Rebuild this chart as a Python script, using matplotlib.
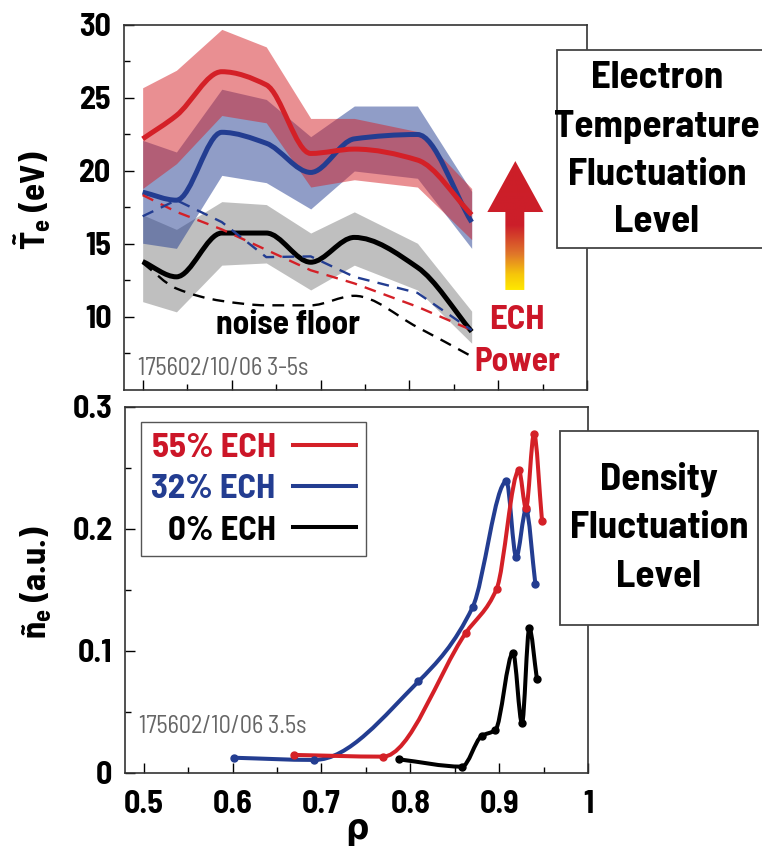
import matplotlib.pyplot as plt
import numpy as np
from matplotlib.path import Path
from matplotlib.patches import PathPatch, Rectangle, Polygon
from matplotlib.lines import Line2D
from matplotlib.colors import LinearSegmentedColormap

FONT = 'Barlow Semi Condensed'
plt.rcParams['font.family'] = [FONT, 'DejaVu Sans']
plt.rcParams['font.stretch'] = 'condensed'
plt.rcParams['font.weight'] = 'bold'
plt.rcParams['axes.labelweight'] = 'bold'
plt.rcParams['mathtext.fontset'] = 'custom'
plt.rcParams['mathtext.rm'] = FONT + ':bold'
plt.rcParams['mathtext.it'] = FONT + ':bold'
plt.rcParams['mathtext.bf'] = FONT + ':bold'

RED = '#d42027'
BLUE = '#233d91'
TXT_RED = '#cc1628'

# ---- top panel: Te fluctuation level ----
rho_top = [0.50, 0.538, 0.589, 0.639, 0.689, 0.738, 0.809, 0.870]
te_55 = [22.2, 23.8, 26.8, 25.9, 21.2, 21.5, 20.75, 17.0]
te_32 = [18.55, 18.0, 22.65, 21.9, 19.9, 22.2, 22.5, 16.5]
te_0 = [13.8, 12.75, 15.75, 15.75, 13.75, 15.45, 13.4, 9.0]
red_hi = [25.7, 26.9, 29.7, 28.5, 23.6, 23.6, 22.7, 18.8]
red_lo = [18.8, 20.5, 23.8, 23.3, 18.9, 19.4, 18.9, 15.3]
blue_hi = [22.1, 21.3, 25.6, 24.9, 22.35, 24.45, 24.45, 18.6]
blue_lo = [15.05, 14.7, 19.7, 19.2, 17.4, 20.0, 19.5, 14.7]
gray_hi = [17.0, 16.0, 17.9, 17.7, 15.75, 17.2, 15.05, 10.4]
gray_lo = [11.05, 10.35, 13.55, 13.7, 11.85, 13.55, 11.85, 8.2]
red_dash = [18.35, 17.2, 16.0, 14.6, 13.2, 12.3, 10.7, 9.1]
blue_dash = [16.9, 18.0, 16.5, 14.1, 14.15, 12.75, 11.65, 9.1]
noise_floor = [13.7, 11.95, 11.1, 10.8, 10.8, 11.45, 9.3, 7.3]

# ---- bottom panel: density fluctuation level ----
ne55_rho = [0.669, 0.769, 0.862, 0.897, 0.922, 0.930, 0.939, 0.948]
ne55 = [0.0148, 0.0134, 0.1145, 0.151, 0.248, 0.217, 0.278, 0.2066]
ne32_rho = [0.6015, 0.692, 0.809, 0.870, 0.908, 0.919, 0.930, 0.9405]
ne32 = [0.0125, 0.0107, 0.075, 0.136, 0.239, 0.177, 0.2156, 0.155]
ne0_rho = [0.787, 0.858, 0.880, 0.8955, 0.9154, 0.9255, 0.9337, 0.9423]
ne0 = [0.0112, 0.0052, 0.0303, 0.0352, 0.0986, 0.0407, 0.1186, 0.0768]

legend_labels = ['55% ECH', '32% ECH', '0% ECH']


def smooth_path(xs, ys):
    # monotone cubic (pchip-like) curve through the points as Bezier segments
    x = np.asarray(xs, float)
    y = np.asarray(ys, float)
    h = np.diff(x)
    d = np.diff(y) / h
    m = np.zeros_like(x)
    m[0], m[-1] = d[0], d[-1]
    for k in range(1, len(x) - 1):
        if d[k - 1] * d[k] > 0:
            w1 = 2 * h[k] + h[k - 1]
            w2 = h[k] + 2 * h[k - 1]
            m[k] = (w1 + w2) / (w1 / d[k - 1] + w2 / d[k])
    verts = [(x[0], y[0])]
    codes = [Path.MOVETO]
    for k in range(len(x) - 1):
        verts += [(x[k] + h[k] / 3, y[k] + m[k] * h[k] / 3),
                  (x[k + 1] - h[k] / 3, y[k + 1] - m[k + 1] * h[k] / 3),
                  (x[k + 1], y[k + 1])]
        codes += [Path.CURVE4] * 3
    return Path(verts, codes)


def curve(ax, xs, ys, color, lw, **kw):
    ax.add_patch(PathPatch(smooth_path(xs, ys), fill=False, ec=color, lw=lw,
                           joinstyle='round', **kw))


def style_axes(ax):
    for s in ax.spines.values():
        s.set_color('#333333')
        s.set_linewidth(1.2)
    ax.tick_params(which='both', direction='in', top=False, right=False,
                   width=1, labelsize=23)
    ax.tick_params(which='major', length=7)
    ax.tick_params(which='minor', length=4)
    ax.tick_params(axis='y', pad=9)
    ax.tick_params(axis='x', pad=12)


fig = plt.figure(figsize=(7.62, 8.5), dpi=100)
ax1 = fig.add_axes([0.1627, 0.5412, 0.608, 0.4294])
ax2 = fig.add_axes([0.164, 0.0906, 0.608, 0.4306])

# top panel
ax1.fill_between(rho_top, gray_lo, gray_hi, color='black', alpha=0.25, lw=0)
ax1.fill_between(rho_top, blue_lo, blue_hi, color=BLUE, alpha=0.5, lw=0)
ax1.fill_between(rho_top, red_lo, red_hi, color=RED, alpha=0.5, lw=0)
ax1.plot(rho_top, red_dash, color=RED, lw=1.7, dashes=(5, 3.5))
ax1.plot(rho_top, blue_dash, color=BLUE, lw=1.7, dashes=(5, 3.5))
curve(ax1, rho_top, noise_floor, 'black', 1.7, linestyle=(0, (5, 3.5)))
curve(ax1, rho_top, te_0, 'black', 3.6)
curve(ax1, rho_top, te_32, BLUE, 3.6)
curve(ax1, rho_top, te_55, RED, 3.6)

# ECH power arrow with yellow-to-red gradient
cmap = LinearSegmentedColormap.from_list(
    'ech', [(0, '#ffe800'), (0.12, '#f6c60a'), (0.28, '#e0762a'),
            (0.5, '#cc1f2a'), (1, '#cc1e28')])
arrow = Polygon([(0.9079, 11.85), (0.9292, 11.85), (0.9292, 17.19),
                 (0.9506, 17.19), (0.9191, 20.68), (0.8876, 17.19),
                 (0.9079, 17.19)], closed=True, fc='none', ec='none')
ax1.add_patch(arrow)
im = ax1.imshow(np.linspace(0, 1, 256).reshape(-1, 1), cmap=cmap,
                origin='lower', extent=(0.8876, 0.9506, 11.85, 20.68),
                aspect='auto', zorder=5)
im.set_clip_path(arrow)
ax1.text(0.921, 9.79, 'ECH', color=TXT_RED, fontsize=25, ha='center', va='center')
ax1.text(0.921, 6.92, 'Power', color=TXT_RED, fontsize=24, ha='center', va='center')
ax1.text(0.663, 9.45, 'noise floor', fontsize=24, ha='center', va='center')
ax1.text(0.4944, 6.44, '175602/10/06 3-5s', fontsize=17.5, fontweight='normal',
         color='#666666', ha='left', va='center')

ax1.set_xlim(0.479, 1.0)
ax1.set_ylim(5, 30)
ax1.set_xticks(np.arange(0.5, 1.01, 0.1))
ax1.set_xticks(np.arange(0.55, 1.0, 0.1), minor=True)
ax1.set_yticks([10, 15, 20, 25, 30])
ax1.set_yticks([7.5, 12.5, 17.5, 22.5, 27.5], minor=True)
style_axes(ax1)
ax1.tick_params(labelbottom=False)
ax1.set_ylabel(r'$\tilde{\mathrm{T}}_{\mathrm{e}}$ (eV)', fontsize=25)
ax1.yaxis.set_label_coords(-0.153, 0.52)

# bottom panel
for xs, ys, c in [(ne32_rho, ne32, BLUE), (ne55_rho, ne55, RED), (ne0_rho, ne0, 'black')]:
    curve(ax2, xs, ys, c, 2.9)
    ax2.plot(xs, ys, 'o', color=c, ms=5)

handles = [Line2D([], [], color=RED, lw=2.9), Line2D([], [], color=BLUE, lw=2.9),
           Line2D([], [], color='black', lw=2.9)]
leg = ax2.legend(handles, legend_labels, loc='upper left',
                 bbox_to_anchor=(0.0346, 0.959), borderaxespad=0, fontsize=25,
                 markerfirst=False, handlelength=1.8, handletextpad=0.5,
                 labelspacing=0.32, borderpad=0.3, fancybox=False,
                 framealpha=1, edgecolor='#555555')
leg.get_frame().set_linewidth(1.0)
for t, c in zip(leg.get_texts(), [TXT_RED, BLUE, 'black']):
    t.set_color(c)

ax2.text(0.4944, 0.0377, '175602/10/06 3.5s', fontsize=17.5, fontweight='normal',
         color='#666666', ha='left', va='center')

ax2.set_xlim(0.479, 1.0)
ax2.set_ylim(0, 0.3)
ax2.set_xticks(np.arange(0.5, 1.01, 0.1))
ax2.set_xticklabels(['0.5', '0.6', '0.7', '0.8', '0.9', '1'])
ax2.set_xticks(np.arange(0.55, 1.0, 0.1), minor=True)
ax2.set_yticks([0, 0.1, 0.2, 0.3])
ax2.set_yticklabels(['0', '0.1', '0.2', '0.3'])
ax2.set_yticks([0.05, 0.15, 0.25], minor=True)
style_axes(ax2)
ax2.set_ylabel('ñ$_{\\mathrm{e}}$ (a.u.)', fontsize=25)
ax2.yaxis.set_label_coords(-0.153, 0.52)
ax2.set_xlabel('ρ', fontsize=26, labelpad=-3)

# text boxes at right
W, H = 762.0, 850.0
fig.add_artist(Rectangle((557 / W, 1 - 248 / H), 210 / W, 198 / H,
                         transform=fig.transFigure, fc='white', ec='#444444',
                         lw=1.3, zorder=3))
for s, yb in zip(['Electron', 'Temperature', 'Fluctuation', 'Level'],
                 [88, 137, 185, 232]):
    fig.text(657 / W, 1 - yb / H, s, fontsize=28, ha='center', va='baseline',
             zorder=4)
fig.add_artist(Rectangle((560 / W, 1 - 625 / H), 198 / W, 194 / H,
                         transform=fig.transFigure, fc='white', ec='#444444',
                         lw=1.3, zorder=3))
for s, yb in zip(['Density', 'Fluctuation', 'Level'], [490, 538, 587]):
    fig.text(659 / W, 1 - yb / H, s, fontsize=28, ha='center', va='baseline',
             zorder=4)

fig.savefig('out.png', dpi=100)
